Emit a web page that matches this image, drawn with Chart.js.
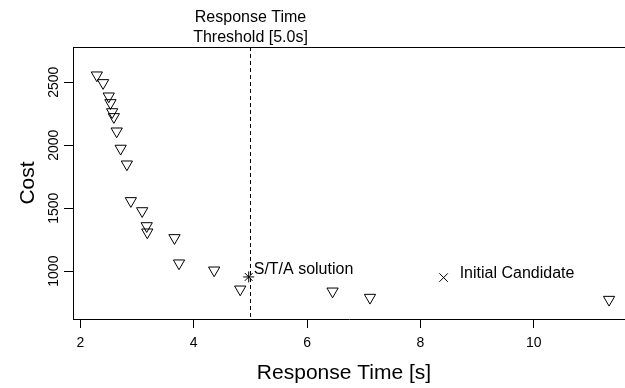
<!DOCTYPE html>
<html>
<head>
<meta charset="utf-8">
<script src="https://cdn.jsdelivr.net/npm/chart.js"></script>
<style>
  html, body { margin: 0; padding: 0; background: #fff; overflow: hidden; }
  #wrap { width: 625px; height: 388px; }
</style>
</head>
<body>
<div id="wrap"><canvas id="c" width="625" height="388"></canvas></div>
<script>
// ---------- data ----------
const candX = [2.29, 2.40, 2.50, 2.53, 2.56, 2.59, 2.64, 2.71, 2.82, 2.89, 3.09, 3.17, 3.18, 3.66, 3.74, 4.36, 4.82, 6.45, 7.11, 11.33];
const candCost = [2556, 2495, 2389, 2336, 2264, 2225, 2111, 1974, 1849, 1558, 1478, 1359, 1309, 1264, 1063, 1007, 856, 840, 790, 774];
const staX = [4.97];
const staCost = [954];
const initX = [8.41];
const initCost = [949];
const threshold = 5.0;
const xTicks = [2, 4, 6, 8, 10];
const yTicks = [1000, 1500, 2000, 2500];

const FONT = "'Liberation Sans', Arial, Helvetica, sans-serif";

const pts = (xs, ys) => xs.map((x, i) => ({ x, y: ys[i] }));

// ---------- extra drawing: box, threshold, labels ----------
const decor = {
  id: 'decor',
  afterDatasetsDraw(chart) {
    const { ctx, chartArea: a, scales: { x, y } } = chart;
    ctx.save();
    ctx.strokeStyle = '#000';
    ctx.lineWidth = 1;

    // box top (left/bottom come from axes, right edge is off the picture)
    ctx.beginPath();
    ctx.moveTo(a.left, Math.round(a.top) + 0.5);
    ctx.lineTo(a.right, Math.round(a.top) + 0.5);
    ctx.stroke();

    // threshold line
    const tx = Math.round(x.getPixelForValue(threshold)) + 0.5;
    ctx.setLineDash([4, 3]);
    ctx.beginPath();
    ctx.moveTo(tx, a.top);
    ctx.lineTo(tx, a.bottom);
    ctx.stroke();
    ctx.setLineDash([]);

    ctx.fillStyle = '#000';
    ctx.font = '16px ' + FONT;
    ctx.textAlign = 'center';
    ctx.textBaseline = 'middle';
    ctx.fillText('Response Time', tx, 18);
    ctx.fillText('Threshold [5.0s]', tx, 38);

    ctx.textAlign = 'left';
    ctx.fillText('S/T/A solution', x.getPixelForValue(staX[0]) + 5, y.getPixelForValue(staCost[0]) - 7);
    ctx.fillText('Initial Candidate', x.getPixelForValue(initX[0]) + 16, y.getPixelForValue(initCost[0]) - 4);

    // y tick labels, rotated like R
    ctx.font = '14px ' + FONT;
    ctx.textAlign = 'center';
    yTicks.forEach(v => {
      ctx.save();
      ctx.translate(54, y.getPixelForValue(v));
      ctx.rotate(-Math.PI / 2);
      ctx.fillText(String(v), 0, 0);
      ctx.restore();
    });

    // axis titles
    ctx.font = '21px ' + FONT;
    ctx.fillText('Response Time [s]', 344, 373);
    ctx.save();
    ctx.translate(28, (a.top + a.bottom) / 2);
    ctx.rotate(-Math.PI / 2);
    ctx.fillText('Cost', 0, 0);
    ctx.restore();

    ctx.restore();
  }
};

new Chart(document.getElementById('c'), {
  type: 'scatter',
  data: {
    datasets: [
      {
        label: 'Candidates',
        data: pts(candX, candCost),
        pointStyle: 'triangle',
        rotation: 180,
        pointRadius: 6.5,
        borderColor: '#000',
        backgroundColor: 'rgba(0,0,0,0)',
        borderWidth: 1
      },
      {
        label: 'S/T/A solution',
        data: pts(staX, staCost),
        pointStyle: 'star',
        pointRadius: 5.5,
        borderColor: '#000',
        borderWidth: 1
      },
      {
        label: 'Initial Candidate',
        data: pts(initX, initCost),
        pointStyle: 'crossRot',
        pointRadius: 6,
        borderColor: '#000',
        borderWidth: 1
      }
    ]
  },
  options: {
    responsive: false,
    animation: false,
    devicePixelRatio: 1,
    layout: { autoPadding: false, padding: { left: 0, top: 47, right: 0, bottom: 0 } },
    plugins: { legend: { display: false }, tooltip: { enabled: false } },
    scales: {
      x: {
        type: 'linear',
        min: 1.869,
        max: 11.611,
        afterBuildTicks: s => { s.ticks = xTicks.map(v => ({ value: v })); },
        afterFit: s => { s.height = 69; s.paddingLeft = 0; s.paddingRight = 0; },
        grid: { drawOnChartArea: false, drawTicks: true, tickLength: 9, tickColor: '#000' },
        border: { display: true, color: '#000', width: 1 },
        ticks: { color: '#000', font: { family: FONT, size: 14 }, padding: 7, maxRotation: 0 }
      },
      y: {
        type: 'linear',
        min: 620,
        max: 2780,
        afterBuildTicks: s => { s.ticks = yTicks.map(v => ({ value: v })); },
        afterFit: s => { s.width = 73; s.paddingTop = 0; s.paddingBottom = 0; },
        grid: { drawOnChartArea: false, drawTicks: true, tickLength: 9, tickColor: '#000' },
        border: { display: true, color: '#000', width: 1 },
        ticks: { display: false }
      }
    }
  },
  plugins: [decor]
});
</script>
</body>
</html>
